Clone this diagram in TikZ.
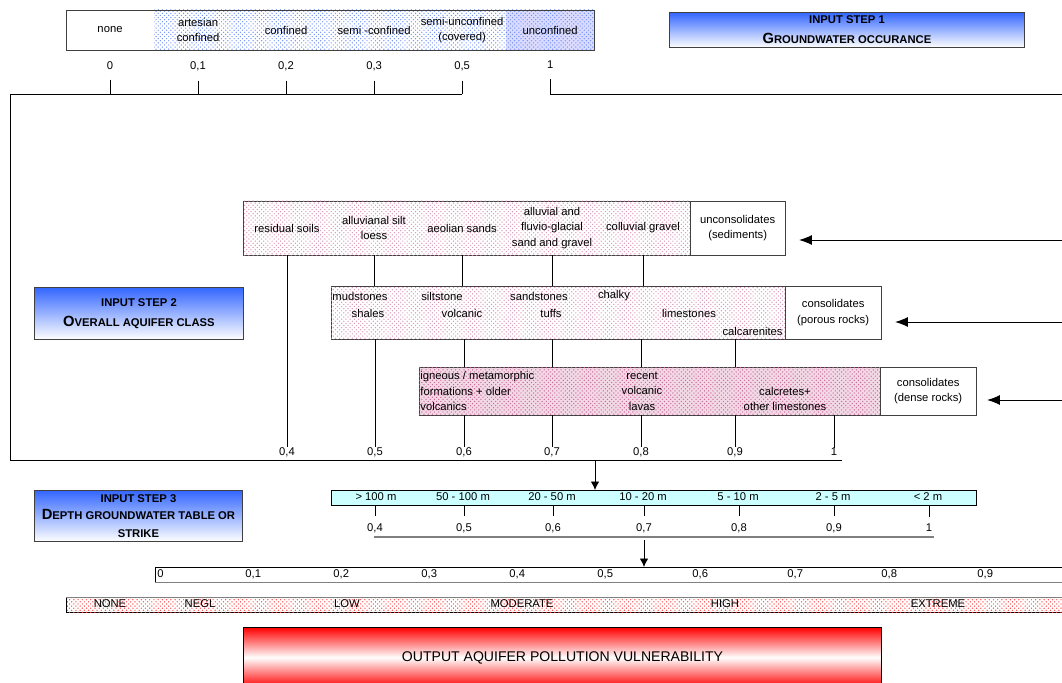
\documentclass[tikz,border=0pt]{standalone}
\usepackage{fontspec}
\setmainfont{Liberation Sans}
\usetikzlibrary{arrows.meta,positioning,patterns}
\definecolor{stepblue}{RGB}{51,102,255}
\definecolor{bluedot}{RGB}{110,145,250}
\definecolor{pinkdot}{RGB}{204,102,153}
\definecolor{aqua}{RGB}{204,255,255}
\definecolor{framegray}{RGB}{64,64,64}
\newcommand{\smalltxt}{\fontsize{8}{11}\selectfont}
\newcommand{\capletter}[1]{{\fontsize{10.5}{12}\selectfont #1}}

\begin{document}
\begin{tikzpicture}[x=0.025cm,y=-0.025cm,line width=.6pt,>={Latex[length=6pt,width=6pt]}]
	\tikzset{cell/.style={inner sep=0pt, outer sep=0pt, align=center, minimum width=2.2cm, minimum height=1cm, font=\smalltxt},
		val/.style={inner sep=0pt, font=\smalltxt},
		lbl/.style={inner sep=0pt, align=center, font=\smalltxt},
		band/.style={draw=framegray, inner sep=0pt, outer sep=0pt, anchor=north west, align=center, font=\smalltxt},
		stepbox/.style={draw=framegray, top color=stepblue, bottom color=white, inner sep=0pt,
			anchor=north west, align=center, font=\bfseries\fontsize{8}{14.5}\selectfont},
		bluedots/.style={postaction={pattern=crosshatch dots, pattern color=#1}},
		bigarrow/.style={->, >={Latex[length=9pt,width=7pt]}}
	}
	\useasboundingbox (0,0) rectangle (1062,682);
	% step 1: groundwater occurance
	\node [cell, anchor=north west, fill=white] (g0) at (66,10) {none};
	\node [cell, right = 0cm of g0, fill=white, bluedots=bluedot] (g1) {artesian\\confined};
	\node [cell, right = 0cm of g1, fill=white, bluedots=bluedot] (g2) {confined};
	\node [cell, right = 0cm of g2, fill=white, bluedots=bluedot] (g3) {semi -confined};
	\node [cell, right = 0cm of g3, fill=white, bluedots=bluedot] (g4) {semi-unconfined\\(covered)};
	\node [cell, right = 0cm of g4, fill=blue!14, bluedots=bluedot] (g5) {unconfined};
	\draw [framegray] (g0.north west) rectangle (g5.south east);
	\node [val, below = .27cm of g0] (v0) {0};
	\node [val, below = .27cm of g1] (v1) {0,1};
	\node [val, below = .27cm of g2] (v2) {0,2};
	\node [val, below = .27cm of g3] (v3) {0,3};
	\node [val, below = .27cm of g4] (v4) {0,5};
	\node [val, below = .27cm of g5] (v5) {1};
	\node [stepbox, minimum width=8.875cm, minimum height=.875cm] (st1) at (669,12)
		{INPUT STEP 1\\\capletter{G}ROUNDWATER OCCURANCE};
	\coordinate (f1) at (10,94);
	\coordinate (f2) at (10,460);
	\coordinate (f3) at (842,460);
	\coordinate (f4) at (1062,94);
	\foreach \v in {v0,v1,v2,v3,v4,v5}
		\draw ([yshift=-.25cm]\v.south) -- (\v |- f1);
	\draw (v4 |- f1) -- (f1) -- (f2) -- (f3);
	\draw (v5 |- f1) -- (f4);
	% step 2: aquifer classes
	\node [band, minimum width=11.175cm, minimum height=1.35cm, fill=white, bluedots=pinkdot!70] (a1) at (243,201) {};
	\node [band, right = 0cm of a1, minimum width=2.375cm, minimum height=1.35cm, fill=white] (a1r) {unconsolidates\\(sediments)};
	\node [band, minimum width=11.35cm, minimum height=1.325cm, fill=white, bluedots=pinkdot!70] (a2) at (331,286) {};
	\node [band, right = 0cm of a2, minimum width=2.4cm, minimum height=1.325cm, fill=white] (a2r) {consolidates\\(porous rocks)};
	\node [band, minimum width=11.525cm, minimum height=1.2cm, fill=pinkdot!25, bluedots=pinkdot] (a3) at (419,367) {};
	\node [band, right = 0cm of a3, minimum width=2.4cm, minimum height=1.2cm, fill=white] (a3r) {consolidates\\(dense rocks)};
	\node [lbl] (s1) at (287,228) {residual soils};
	\node [lbl] (s2) at (374,228) {alluvianal silt\\loess};
	\node [lbl] (s3) at (462,228) {aeolian sands};
	\node [lbl] (s4) at (552,228) {alluvial and\\fluvio-glacial\\sand and gravel};
	\node [lbl] (s5) at (643,228) {colluvial gravel};
	\node [lbl, anchor=west] (p1) at (332,296) {mudstones};
	\node [lbl] (p2) at (368,313) {shales};
	\node [lbl] (p3) at (442,296) {siltstone};
	\node [lbl] (p4) at (462,313) {volcanic};
	\node [lbl] (p5) at (539,296) {sandstones};
	\node [lbl] (p6) at (551,313) {tuffs};
	\node [lbl] (p7) at (614,296) {chalky};
	\node [lbl] (p8) at (689,313) {limestones};
	\node [lbl, anchor=east] (p9) at (783,331) {calcarenites};
	\node [lbl, align=left, anchor=west] (d1) at (420,391) {igneous / metamorphic\\formations + older\\volcanics};
	\node [lbl] (d2) at (642,391) {recent\\volcanic\\lavas};
	\node [lbl] (d3) at (785,399) {calcretes+\\other limestones};
	\node [val] (c04) at (287,452) {0,4};
	\node [val] (c05) at (375,452) {0,5};
	\node [val] (c06) at (464,452) {0,6};
	\node [val] (c07) at (552,452) {0,7};
	\node [val] (c08) at (641,452) {0,8};
	\node [val] (c09) at (735,452) {0,9};
	\node [val] (c10) at (834,452) {1};
	\draw (c04 |- a1.south) -- (c04.north);
	\foreach \s in {s2,s3,s4,s5}
		\draw (\s |- a1.south) -- (\s |- a2.north);
	\draw (c05 |- a2.south) -- (c05.north);
	\foreach \c in {c06,c07,c08,c09}
		\draw (\c |- a2.south) -- (\c |- a3.north);
	\foreach \c in {c06,c07,c08,c09,c10}
		\draw (\c |- a3.south) -- (\c.north);
	\coordinate (r1) at (1062,240);
	\coordinate (r2) at (1062,322);
	\coordinate (r3) at (1062,400);
	\draw [bigarrow, shorten >=.35cm] (r1) -- (r1 -| a1r.east);
	\draw [bigarrow, shorten >=.35cm] (r2) -- (r2 -| a2r.east);
	\draw [bigarrow, shorten >=.275cm] (r3) -- (r3 -| a3r.east);
	\node [stepbox, minimum width=5.225cm, minimum height=1.3cm] (st2) at (34,287)
		{INPUT STEP 2\\\capletter{O}VERALL AQUIFER CLASS};
	% step 3: depth of groundwater
	\coordinate (j1) at (595,460);
	\node [draw, fill=aqua, inner sep=0pt, anchor=north west, minimum width=16.125cm, minimum height=.375cm] (dp) at (331,490) {};
	\draw [->] (j1) -- (j1 |- dp.north);
	\node [lbl] (h1) at (376,497) {> 100 m};
	\node [lbl] (h2) at (463,497) {50 - 100 m};
	\node [lbl] (h3) at (552,497) {20 - 50 m};
	\node [lbl] (h4) at (643,497) {10 - 20 m};
	\node [lbl] (h5) at (738,497) {5 - 10 m};
	\node [lbl] (h6) at (833,497) {2 - 5 m};
	\node [lbl] (h7) at (928,497) {< 2 m};
	\node [val] (e04) at (375,528) {0,4};
	\node [val] (e05) at (464,528) {0,5};
	\node [val] (e06) at (553,528) {0,6};
	\node [val] (e07) at (644,528) {0,7};
	\node [val] (e08) at (739,528) {0,8};
	\node [val] (e09) at (834,528) {0,9};
	\node [val] (e10) at (929,528) {1};
	\foreach \e in {e04,e05,e06,e07,e08,e09,e10}
		\draw (\e |- dp.south) -- ([yshift=.17cm]\e.north);
	\coordinate (g1) at (374,537);
	\coordinate (g2) at (934,537);
	\draw [gray, line width=1.3pt] (g1) -- (g2);
	\node [stepbox, minimum width=5.2cm, minimum height=1.275cm, font=\bfseries\fontsize{8}{12.5}\selectfont] (st3) at (34,490)
		{INPUT STEP 3\\\capletter{D}EPTH GROUNDWATER TABLE OR\\STRIKE};
	% output scale
	\node [draw, inner sep=0pt, anchor=north west, minimum width=23cm, minimum height=.375cm] (sc) at (155,567) {};
	\draw [->, shorten <=2pt] (e07 |- g1) -- (e07 |- sc.north);
	\draw [gray] (sc.south west) -- (sc.south east);
	\node [val, anchor=west] (t0) at (157,574) {0};
	\node [val, anchor=west] (t1) at (245,574) {0,1};
	\node [val, anchor=west] (t2) at (333,574) {0,2};
	\node [val, anchor=west] (t3) at (421,574) {0,3};
	\node [val, anchor=west] (t4) at (509,574) {0,4};
	\node [val, anchor=west] (t5) at (597,574) {0,5};
	\node [val, anchor=west] (t6) at (692,574) {0,6};
	\node [val, anchor=west] (t7) at (787,574) {0,7};
	\node [val, anchor=west] (t8) at (881,574) {0,8};
	\node [val, anchor=west] (t9) at (977,574) {0,9};
	\node [draw, fill=white, bluedots=red!75, inner sep=0pt, anchor=north west, minimum width=25cm, minimum height=.375cm] (vb) at (66,597) {};
	\draw [gray] (vb.north west) -- (vb.north east);
	\node [lbl] (n1) at (110,604) {NONE};
	\node [lbl] (n2) at (200,604) {NEGL};
	\node [lbl] (n3) at (347,604) {LOW};
	\node [lbl] (n4) at (522,604) {MODERATE};
	\node [lbl] (n5) at (725,604) {HIGH};
	\node [lbl] (n6) at (938,604) {EXTREME};
	\node [draw, top color=red, bottom color=red, middle color=white, inner sep=0pt, anchor=north west,
		minimum width=15.95cm, minimum height=1.5cm, font=\fontsize{10}{12}\selectfont] (out) at (243,627)
		{OUTPUT AQUIFER POLLUTION VULNERABILITY};
\end{tikzpicture}
\end{document}
